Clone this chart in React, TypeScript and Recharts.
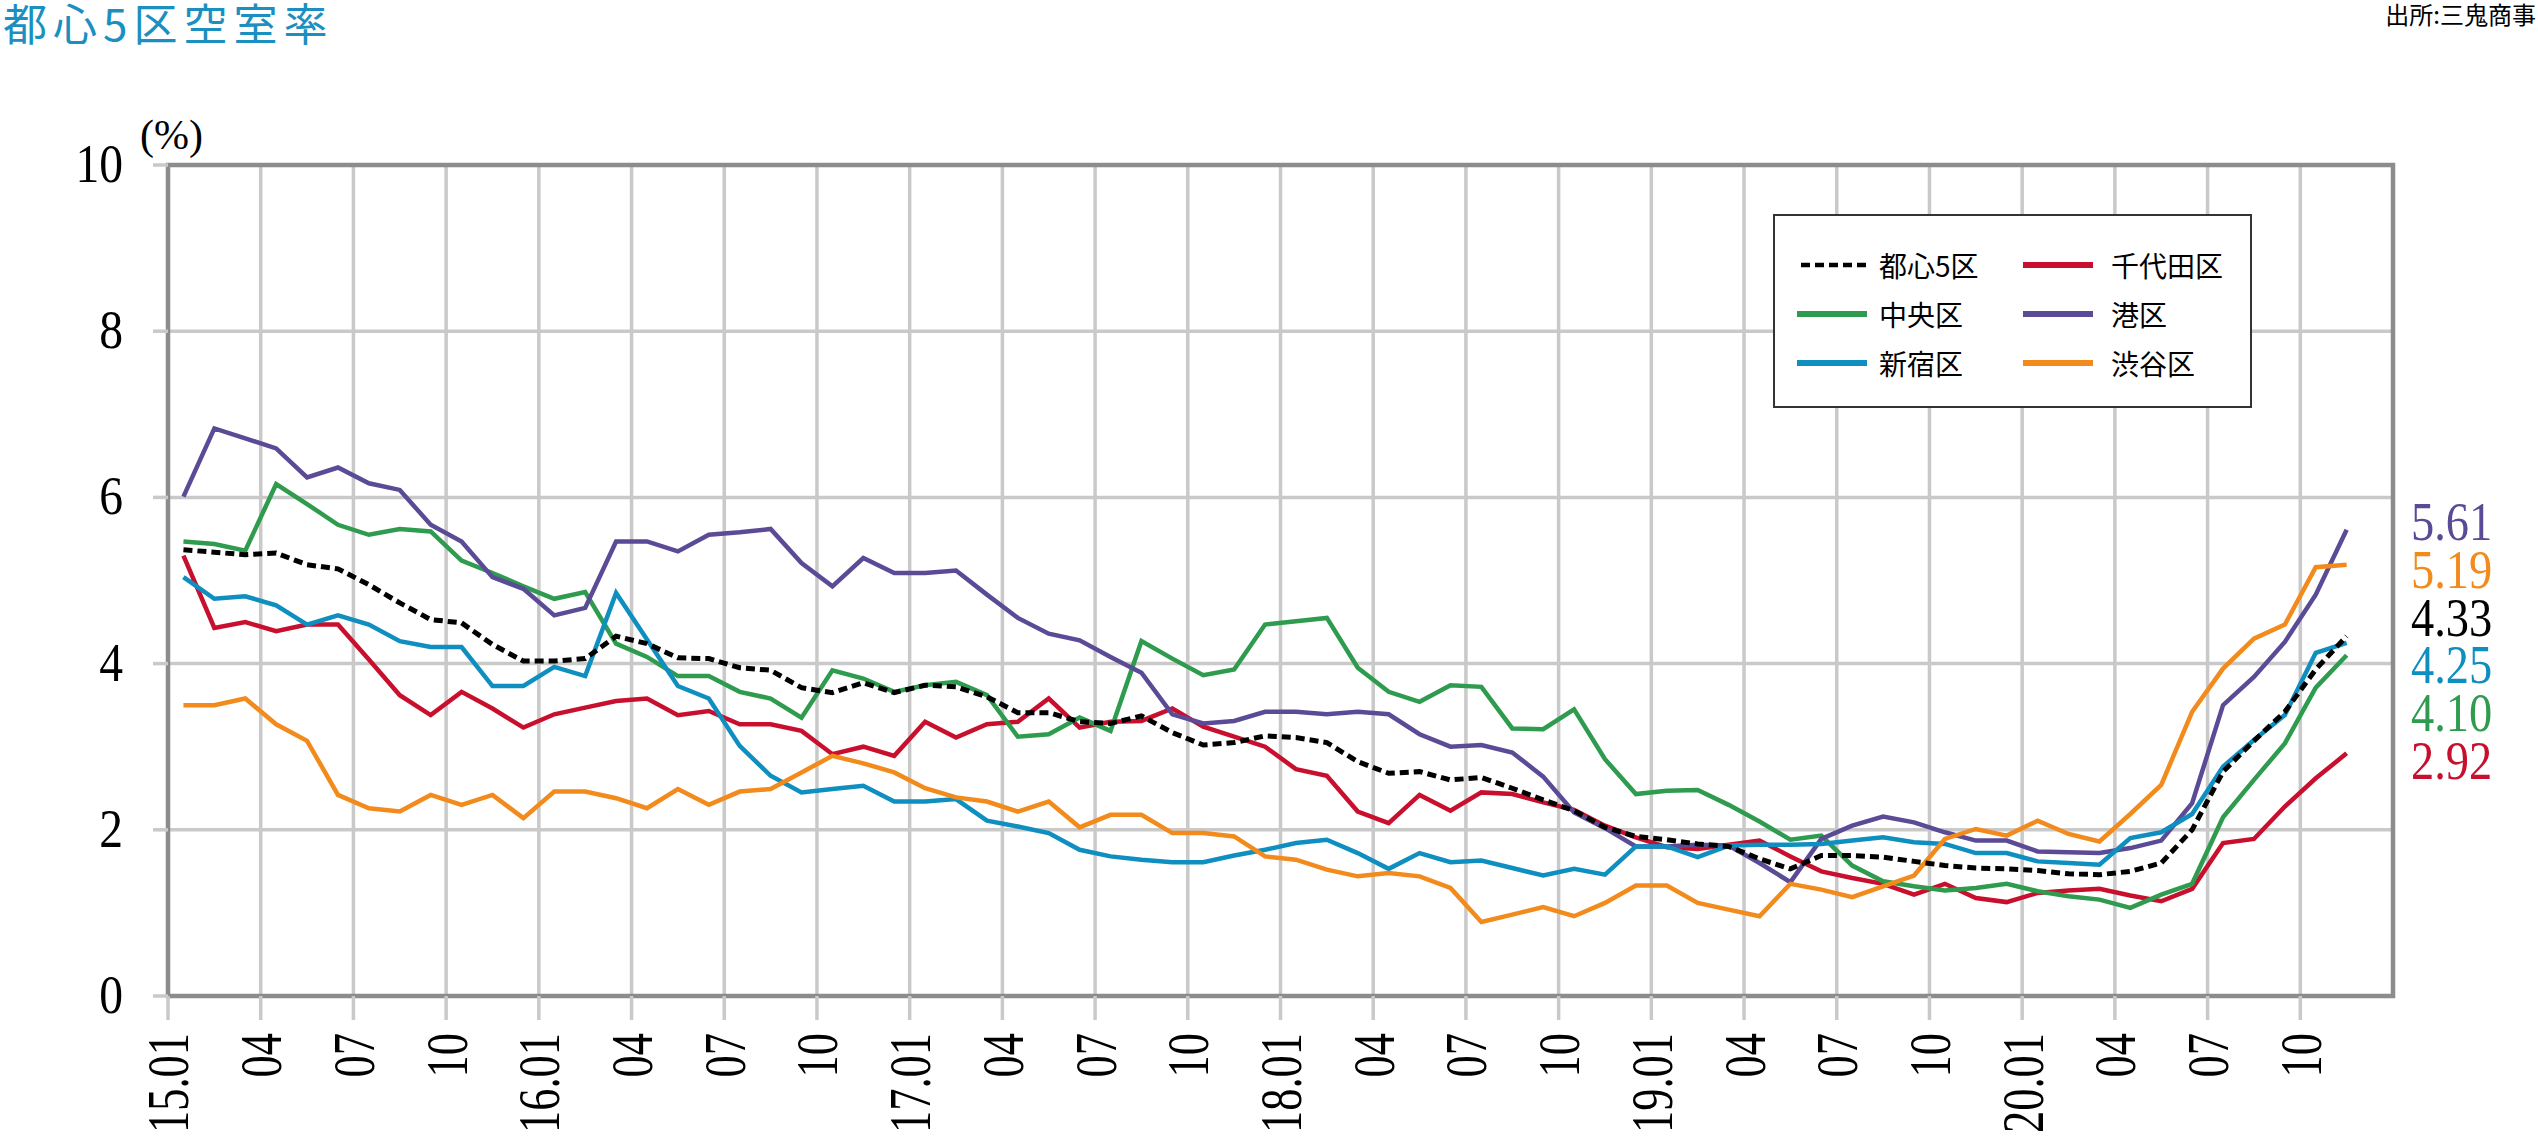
import React from 'react';
import { LineChart, Line, XAxis, YAxis, CartesianGrid, Legend, ReferenceArea } from 'recharts';

// months 15.01 - 20.11
const years = ['15', '16', '17', '18', '19', '20'];
const months: string[] = [];
years.forEach((y) => {
  for (let m = 1; m <= 12; m++) {
    if (y === '20' && m === 12) break;
    months.push(`${y}.${String(m).padStart(2, '0')}`);
  }
});

// 空室率 (%)
const tokyo5 = [
  5.37, 5.34, 5.31, 5.33, 5.19, 5.14, 4.95, 4.73, 4.53, 4.49, 4.23, 4.03,
  4.03, 4.06, 4.33, 4.24, 4.07, 4.06, 3.95, 3.92, 3.71, 3.65, 3.77, 3.65,
  3.74, 3.72, 3.6, 3.41, 3.41, 3.3, 3.28, 3.37, 3.17, 3.02, 3.05, 3.13,
  3.11, 3.05, 2.82, 2.68, 2.7, 2.6, 2.63, 2.5, 2.36, 2.23, 2.03, 1.92,
  1.88, 1.83, 1.8, 1.65, 1.53, 1.69, 1.69, 1.67, 1.62, 1.57, 1.54, 1.53,
  1.51, 1.47, 1.46, 1.5, 1.6, 2.0, 2.7, 3.07, 3.42, 3.93, 4.33,
];
const chiyoda = [
  5.3, 4.43, 4.5, 4.39, 4.47, 4.47, 4.05, 3.62, 3.38, 3.66, 3.46, 3.23,
  3.39, 3.47, 3.55, 3.58, 3.38, 3.43, 3.27, 3.27, 3.19, 2.91, 3.0, 2.89,
  3.3, 3.11, 3.27, 3.3, 3.58, 3.23, 3.3, 3.31, 3.46, 3.24, 3.12, 3.0,
  2.73, 2.65, 2.22, 2.08, 2.42, 2.23, 2.45, 2.43, 2.33, 2.24, 2.05, 1.91,
  1.79, 1.77, 1.82, 1.87, 1.68, 1.5, 1.42, 1.35, 1.22, 1.35, 1.18, 1.13,
  1.24, 1.27, 1.29, 1.21, 1.14, 1.29, 1.84, 1.89, 2.28, 2.62, 2.92,
];
const chuo = [
  5.47, 5.44, 5.36, 6.16, 5.92, 5.67, 5.55, 5.62, 5.59, 5.24, 5.09, 4.93,
  4.78, 4.86, 4.24, 4.08, 3.85, 3.85, 3.66, 3.58, 3.35, 3.92, 3.82, 3.66,
  3.74, 3.78, 3.62, 3.12, 3.15, 3.35, 3.19, 4.27, 4.06, 3.86, 3.93, 4.47,
  4.51, 4.55, 3.95, 3.66, 3.54, 3.74, 3.72, 3.22, 3.21, 3.45, 2.85, 2.43,
  2.47, 2.48, 2.3, 2.1, 1.88, 1.93, 1.57, 1.38, 1.32, 1.27, 1.3, 1.35,
  1.26, 1.2, 1.16, 1.06, 1.22, 1.35, 2.15, 2.6, 3.04, 3.71, 4.1,
];
const minato = [
  6.01, 6.83, 6.71, 6.59, 6.24, 6.36, 6.17, 6.09, 5.67, 5.47, 5.04, 4.9,
  4.58, 4.67, 5.47, 5.47, 5.35, 5.55, 5.58, 5.62, 5.21, 4.93, 5.27, 5.09,
  5.09, 5.12, 4.83, 4.55, 4.36, 4.28, 4.08, 3.89, 3.39, 3.28, 3.31, 3.42,
  3.42, 3.39, 3.42, 3.39, 3.15, 3.0, 3.02, 2.93, 2.64, 2.21, 2.02, 1.8,
  1.8, 1.82, 1.81, 1.6, 1.37, 1.89, 2.05, 2.16, 2.09, 1.97, 1.87, 1.87,
  1.74, 1.73, 1.72, 1.78, 1.87, 2.32, 3.5, 3.84, 4.26, 4.83, 5.61,
];
const shinjuku = [
  5.04, 4.78, 4.81, 4.7, 4.47, 4.58, 4.47, 4.27, 4.2, 4.2, 3.73, 3.73,
  3.96, 3.85, 4.85, 4.29, 3.73, 3.58, 3.01, 2.65, 2.45, 2.49, 2.53, 2.34,
  2.34, 2.37, 2.11, 2.04, 1.96, 1.76, 1.68, 1.64, 1.61, 1.61, 1.69, 1.76,
  1.84, 1.88, 1.72, 1.53, 1.72, 1.61, 1.63, 1.54, 1.45, 1.53, 1.46, 1.8,
  1.8, 1.67, 1.81, 1.82, 1.82, 1.83, 1.87, 1.91, 1.85, 1.83, 1.72, 1.72,
  1.62, 1.6, 1.58, 1.9, 1.97, 2.19, 2.76, 3.08, 3.38, 4.13, 4.25,
];
const shibuya = [
  3.5, 3.5, 3.58, 3.27, 3.07, 2.42, 2.26, 2.22, 2.42, 2.3, 2.42, 2.14,
  2.46, 2.46, 2.38, 2.26, 2.49, 2.3, 2.46, 2.49, 2.69, 2.89, 2.8, 2.69,
  2.5, 2.39, 2.34, 2.22, 2.34, 2.03, 2.18, 2.18, 1.96, 1.96, 1.92, 1.68,
  1.64, 1.52, 1.44, 1.48, 1.44, 1.3, 0.89, 0.98, 1.07, 0.96, 1.12, 1.33,
  1.33, 1.12, 1.04, 0.96, 1.35, 1.28, 1.19, 1.32, 1.45, 1.89, 2.01, 1.93,
  2.11, 1.95, 1.86, 2.19, 2.54, 3.42, 3.94, 4.3, 4.47, 5.16, 5.19,
];

const yTicks = [0, 2, 4, 6, 8, 10];

const seriesList = [
  { key: 'tokyo5', name: '都心5区', color: '#000000', values: tokyo5, dash: '9 5' },
  { key: 'chiyoda', name: '千代田区', color: '#c8102e', values: chiyoda },
  { key: 'chuo', name: '中央区', color: '#2e9b4e', values: chuo },
  { key: 'minato', name: '港区', color: '#5b4b96', values: minato },
  { key: 'shinjuku', name: '新宿区', color: '#0f8ec0', values: shinjuku },
  { key: 'shibuya', name: '渋谷区', color: '#f28a1c', values: shibuya },
];

const data = months.map((m, i) => {
  const row: Record<string, number | string> = { idx: i, month: m };
  seriesList.forEach((s) => {
    row[s.key] = s.values[i];
  });
  return row;
});

// ticks on month boundaries, every 3 months
const xTicks = months.map((_, i) => i).filter((i) => i % 3 === 0).map((i) => i - 0.5);

const tickLabel = (v: number) => {
  const m = months[Math.round(v + 0.5)] || '';
  return m.endsWith('.01') ? m : m.slice(3);
};

const SERIF = '"Liberation Serif", "DejaVu Serif", serif';
const CJK = '"Noto Sans CJK JP", "Noto Sans CJK SC", sans-serif';

const XTick = (props: any) => {
  const { x, y, payload } = props;
  return (
    <text
      transform={`translate(${x},${y}) rotate(-90) scale(0.74,1)`}
      textAnchor="end"
      dominantBaseline="central"
      fontFamily={SERIF}
      fontSize={60}
      fill="#000"
    >
      {tickLabel(payload.value)}
    </text>
  );
};

const YTick = (props: any) => {
  const { x, y, payload } = props;
  return (
    <text
      transform={`translate(${x},${y + 17}) scale(0.85,1)`}
      textAnchor="end"
      fontFamily={SERIF}
      fontSize={56}
      fill="#000"
    >
      {payload.value}
    </text>
  );
};

const legendOrder = ['tokyo5', 'chiyoda', 'chuo', 'minato', 'shinjuku', 'shibuya'];

const LegendBox = () => (
  <div
    style={{
      width: 479,
      height: 194,
      boxSizing: 'border-box',
      border: '2px solid #333',
      background: '#fff',
      position: 'relative',
    }}
  >
    {legendOrder.map((key, k) => {
      const s = seriesList.find((d) => d.key === key)!;
      const col = k % 2;
      const row = Math.floor(k / 2);
      const top = 49 + row * 49;
      const lineLeft = col === 0 ? 22 : 248;
      const textLeft = col === 0 ? 104 : 336;
      return (
        <React.Fragment key={key}>
          <svg
            width={70}
            height={10}
            style={{ position: 'absolute', left: lineLeft, top: top - 5 }}
          >
            <line
              x1={s.dash ? 4 : 0}
              x2={70}
              y1={5}
              y2={5}
              stroke={s.color}
              strokeWidth={s.dash ? 4.5 : 6}
              strokeDasharray={s.dash}
            />
          </svg>
          <span
            style={{
              position: 'absolute',
              left: textLeft,
              top: top - 20,
              fontFamily: CJK,
              fontSize: 28,
              lineHeight: '40px',
              color: '#000',
              whiteSpace: 'nowrap',
            }}
          >
            {s.name}
          </span>
        </React.Fragment>
      );
    })}
  </div>
);

// latest values listed at the right, highest first
const latest = seriesList
  .map((s) => ({ color: s.color, value: s.values[s.values.length - 1] }))
  .sort((a, b) => b.value - a.value);

const App = () => {
  return (
    <div style={{ position: 'relative', width: 2538, height: 1137, background: '#fff' }}>
      <style>{'body{margin:0}'}</style>
      <LineChart
        width={2538}
        height={1137}
        data={data}
        margin={{ top: 165, right: 145, bottom: 0, left: 0 }}
      >
        <CartesianGrid stroke="#c9c9c9" strokeWidth={3.5} />
        <XAxis
          type="number"
          dataKey="idx"
          domain={[-0.5, 71.5]}
          ticks={xTicks}
          interval={0}
          height={141}
          tickSize={24}
          tickMargin={13}
          tickLine={{ stroke: '#c9c9c9', strokeWidth: 3.5 }}
          axisLine={false}
          tick={<XTick />}
        />
        <YAxis
          type="number"
          domain={[0, 10]}
          ticks={yTicks}
          interval={0}
          width={168}
          tickSize={15}
          tickMargin={30}
          tickLine={{ stroke: '#c9c9c9', strokeWidth: 3.5 }}
          axisLine={false}
          tick={<YTick />}
        />
        <ReferenceArea
          x1={-0.5}
          x2={71.5}
          y1={0}
          y2={10}
          fill="none"
          fillOpacity={0}
          stroke="#8c8c8c"
          strokeWidth={4.5}
        />
        <Legend
          layout="horizontal"
          verticalAlign="middle"
          align="center"
          width={479}
          height={194}
          wrapperStyle={{ left: 1773, top: 214, right: 'auto', bottom: 'auto' }}
          content={<LegendBox />}
        />
        {seriesList
          .filter((s) => !s.dash)
          .map((s) => (
            <Line
              key={s.key}
              type="linear"
              dataKey={s.key}
              name={s.name}
              stroke={s.color}
              strokeWidth={4.5}
              dot={false}
              activeDot={false}
              isAnimationActive={false}
            />
          ))}
        {seriesList
          .filter((s) => s.dash)
          .map((s) => (
            <Line
              key={s.key}
              type="linear"
              dataKey={s.key}
              name={s.name}
              stroke={s.color}
              strokeWidth={5}
              strokeDasharray={s.dash}
              dot={false}
              activeDot={false}
              isAnimationActive={false}
            />
          ))}
      </LineChart>
      <svg
        width={2538}
        height={1137}
        style={{ position: 'absolute', left: 0, top: 0, pointerEvents: 'none' }}
      >
        <text x={3} y={41} fontFamily={CJK} fontSize={44} letterSpacing={6} fill="#1a8fc0">
          都心5区空室率
        </text>
        <text x={2536} y={24} textAnchor="end" fontFamily={CJK} fontSize={24} fill="#000">
          出所:三鬼商事
        </text>
        <text x={140} y={149} fontFamily={SERIF} fontSize={42} fill="#000">
          (%)
        </text>
        {latest.map((d, i) => (
          <text
            key={i}
            transform={`translate(2411,${540 + i * 47.8}) scale(0.86,1)`}
            fontFamily={SERIF}
            fontSize={54}
            fill={d.color}
          >
            {d.value.toFixed(2)}
          </text>
        ))}
      </svg>
    </div>
  );
};

export default App;
